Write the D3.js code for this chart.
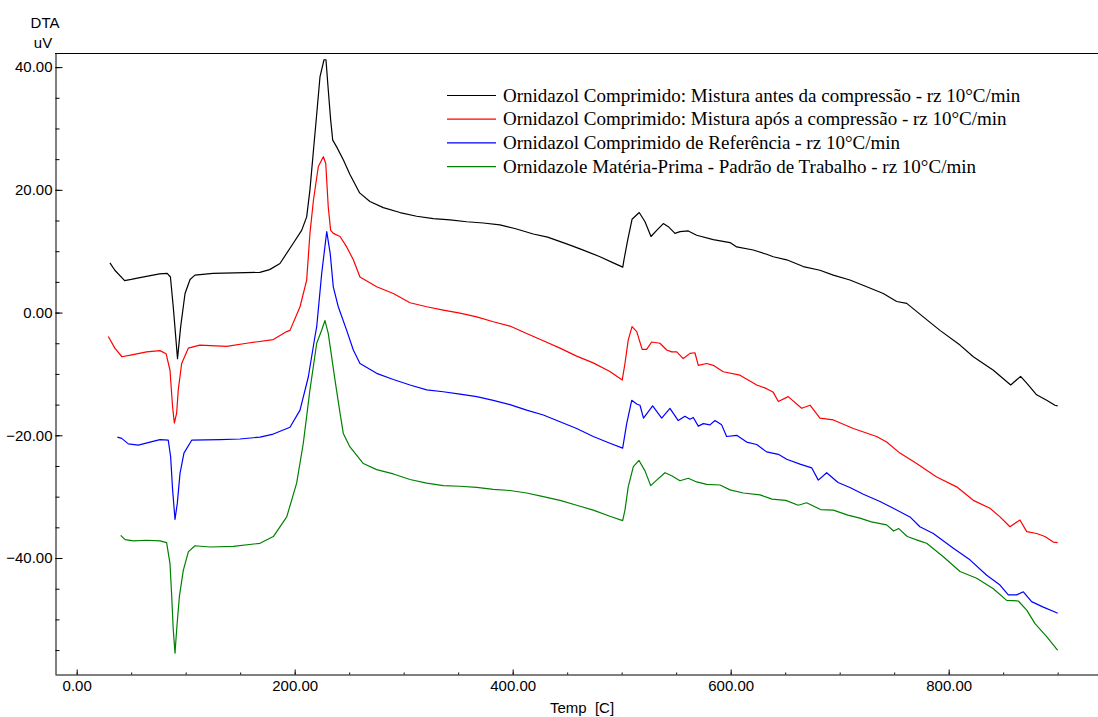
<!DOCTYPE html>
<html>
<head>
<meta charset="utf-8">
<script src="https://cdn.jsdelivr.net/npm/d3@7"></script>
<style>
    body { margin: 0; background: #fff; }
    #chart { width: 1098px; height: 717px; }
    .axis text { font-family: "Liberation Sans", Arial, sans-serif; font-size: 15px; fill: #000; }
    .axis path, .axis line { stroke: #000; }
</style>
</head>
<body>
<div id="chart"></div>
<script>
// DTA curves, [temperature C, signal uV]
const antes = [[30.5,8.1],[35,6.9],[44,5.2],[50,5.4],[58,5.7],[76,6.3],[83,6.4],[86,5.8],[88.6,0.9],[92.5,-7.5],[95.4,-2.3],[99.4,3.1],[104,5.4],[108.5,6.1],[125,6.4],[168,6.55],[177,7.0],[186.5,8.0],[198.7,11.3],[206.4,13.4],[211,15.6],[214,20],[217,26],[220,31.9],[223.2,38.4],[226.9,41.2],[228.7,41.2],[230.8,36.3],[233,31.4],[234.9,28.1],[238.5,27],[244.6,24.9],[250.7,22.5],[259.6,19.5],[269,18.1],[281.3,17.1],[296.6,16.3],[311.9,15.7],[327.2,15.3],[342.5,15.1],[357.8,14.8],[373,14.6],[388.3,14.3],[402,13.7],[418.9,12.8],[432,12.3],[449.5,11.2],[463,10.3],[480.1,9.1],[492.3,8.1],[501,7.4],[502.1,8.6],[505.5,11.8],[509.5,15.2],[516.1,16.3],[521.4,14.8],[526.9,12.4],[532.1,13.4],[538.2,14.5],[542.8,14.0],[548.9,12.9],[553.5,13.2],[561.1,13.3],[568.8,12.6],[584,11.9],[599.4,11.4],[605.5,10.7],[620.7,10.2],[633,9.5],[639.1,9.1],[651.4,8.6],[666.6,7.5],[681.9,6.9],[694.1,6.1],[709.4,5.3],[724.8,4.2],[740,3.1],[752.3,1.8],[761.5,1.5],[776.7,-0.7],[792,-2.9],[810.4,-5.3],[822.6,-7.2],[841,-9.4],[856.9,-11.8],[866,-10.4],[871.6,-11.5],[880.7,-13.4],[889.9,-14.3],[897.5,-15.1],[900,-15.2]];

const apos = [[29,-3.9],[35,-5.8],[41.5,-7.2],[50.6,-6.9],[64.2,-6.4],[76.4,-6.2],[82,-6.7],[85.6,-9.4],[88,-15.4],[89.6,-18],[91.7,-16.4],[93.2,-12.6],[96.3,-8.3],[102.4,-5.8],[113,-5.3],[137.6,-5.5],[156,-5.0],[180.4,-4.4],[192.7,-3.1],[195.7,-2.9],[204.9,0.95],[211,5.3],[214,12.9],[217.2,18.3],[221.7,23.8],[226.3,25.4],[228.5,24.3],[230.8,17.2],[233,13.4],[235.5,12.9],[241.6,12.4],[247.7,10.7],[253.8,8.6],[259.9,5.8],[275.2,4.2],[290.5,3.1],[305.8,1.6],[321.1,0.95],[336.3,0.4],[351.7,-0.1],[367,-0.7],[382.2,-1.5],[397.5,-2.2],[412.8,-3.4],[428.1,-4.6],[443.4,-5.8],[458.7,-7.1],[473.9,-8.2],[489.2,-9.6],[500.5,-11],[503,-8.3],[506,-4.5],[509.5,-2.3],[513.8,-3.1],[518.8,-6.0],[522.9,-6.0],[527.5,-4.8],[535.1,-5.0],[541.3,-6.1],[545.9,-6.4],[550.5,-6.4],[556.5,-7.5],[562.7,-6.65],[567.2,-6.55],[570.3,-8.6],[578,-8.3],[584,-8.6],[593.2,-9.65],[608.5,-10.2],[623.9,-11.8],[633,-12.4],[639.1,-13.0],[643.7,-14.5],[652.8,-13.7],[665.1,-15.6],[672.8,-15.1],[681.9,-17.2],[694.2,-17.5],[712.5,-18.9],[733.9,-20.2],[743.1,-21.1],[755.3,-22.9],[770.6,-24.6],[789,-26.8],[807.3,-28.4],[822.6,-30.6],[837.9,-31.9],[847.1,-33.3],[856.2,-34.9],[865.4,-33.8],[871.6,-35.7],[880.7,-36],[888.3,-36.5],[896,-37.4],[900,-37.5]];

const referencia = [[37.3,-20.3],[41.3,-20.5],[47.4,-21.4],[56.6,-21.6],[67.3,-21.1],[76.4,-20.7],[84,-20.8],[86.2,-23.5],[88,-28.9],[90.2,-33.7],[92.3,-31.1],[94.8,-26.2],[98.4,-22.9],[105.5,-20.8],[131.5,-20.7],[149.8,-20.6],[168.2,-20.3],[180.4,-19.8],[195.7,-18.7],[204.9,-15.9],[212.5,-10.5],[218.6,-3.9],[220.2,-2.3],[224.8,6.4],[229.4,13.2],[232.6,9.6],[235.4,4.2],[240,0.95],[247.7,-2.9],[253.8,-6.1],[259.9,-8.3],[275.2,-9.9],[290.5,-10.9],[305.8,-11.8],[321.1,-12.6],[336.3,-12.9],[351.7,-13.3],[367,-13.7],[382.2,-14.3],[397.5,-15.0],[412.8,-15.9],[428.1,-16.7],[443.4,-17.8],[458.7,-18.9],[473.9,-20.2],[489.2,-21.3],[500.9,-22.1],[504.6,-18.1],[509.2,-14.3],[513.8,-14.9],[516.8,-15.1],[520,-17.2],[528.4,-15.2],[536.7,-17.2],[544.3,-15.6],[551.9,-17.6],[558,-16.9],[562.6,-17.4],[565.7,-17.1],[570.3,-18.5],[574.9,-18.1],[581,-18.3],[585.6,-17.6],[591.7,-18.3],[596.3,-20.2],[605.5,-20],[614.7,-21.1],[623.9,-21.5],[633,-22.7],[643.7,-23.1],[651.4,-23.9],[663.6,-24.7],[674.3,-25.3],[680.4,-27.3],[688.1,-26.1],[698.5,-27.7],[709.4,-28.5],[721.7,-29.6],[737,-30.8],[749.2,-31.9],[764.5,-33.3],[773.6,-34.9],[785.9,-36],[804.3,-38.4],[819.5,-40.3],[834.9,-42.8],[847.1,-44.4],[854.7,-46],[862.4,-46],[868.5,-45.5],[876.1,-47.1],[886.8,-48],[897.5,-48.8],[900,-49]];

const materiaPrima = [[40.4,-36.3],[44.4,-37],[52,-37.2],[64.2,-37.1],[76.4,-37.2],[82.5,-37.5],[85.6,-40.9],[87.2,-46.3],[88.6,-51.7],[90.2,-55.5],[91.7,-51.7],[94.2,-46.3],[97.8,-42],[102.4,-39],[108.5,-38],[122.3,-38.2],[143.7,-38.1],[168.2,-37.6],[180.4,-36.5],[192.7,-33.3],[201.8,-27.8],[207.9,-21.3],[214,-12.6],[220.2,-5],[224.8,-2.85],[227.8,-1.3],[230.8,-3.4],[237,-11],[241.6,-16.4],[244.6,-19.7],[250.7,-21.9],[263,-24.6],[275.2,-25.6],[290.5,-26.3],[305.8,-27.2],[321.1,-27.8],[336.3,-28.2],[351.7,-28.3],[367,-28.5],[382.2,-28.8],[397.5,-29.0],[412.8,-29.4],[428.1,-30],[443.4,-30.6],[458.7,-31.4],[473.9,-32.2],[489.2,-33.2],[500.9,-33.9],[503,-32.2],[506,-28.4],[510.7,-25.1],[515.9,-24.1],[521.4,-25.8],[526.6,-28.2],[532.1,-27.3],[539.7,-26.1],[545.9,-26.6],[553.5,-27.4],[561.1,-27.0],[568.8,-27.6],[578,-28],[590.2,-28.1],[599.4,-28.9],[611.6,-29.4],[626.9,-29.7],[638,-30.4],[650.5,-30.6],[662,-31.4],[669.7,-31],[682.5,-32.1],[694.2,-32.2],[707.5,-33],[718.6,-33.5],[729,-34.1],[743.1,-34.6],[749.5,-35.6],[754.2,-35.2],[762,-36.5],[773.1,-37.2],[779.8,-37.6],[795.1,-39.8],[810.4,-42.2],[825.7,-43.3],[841,-45],[853.2,-46.9],[863.9,-47],[871.6,-48.5],[879.2,-50.7],[889.9,-52.8],[898.4,-54.7],[900,-55]];

const seriesNames = [
    "Ornidazol Comprimido: Mistura antes da compressão - rz 10°C/min",
    "Ornidazol Comprimido: Mistura após a compressão - rz 10°C/min",
    "Ornidazol Comprimido de Referência - rz 10°C/min",
    "Ornidazole Matéria-Prima - Padrão de Trabalho - rz 10°C/min"
];
const seriesColors = ["#000000", "#ff0000", "#0000ff", "#008000"];

const xMajorTicks = [0, 200, 400, 600, 800];
const yMajorTicks = [-40, -20, 0, 20, 40];

const series = [antes, apos, referencia, materiaPrima].map((pts, i) => ({
    name: seriesNames[i], color: seriesColors[i], values: pts
}));

const width = 1098, height = 717;
const plot = { left: 55, right: 1098, top: 53, bottom: 674 };

const svg = d3.select("#chart").append("svg")
    .attr("width", width)
    .attr("height", height);

const x = d3.scaleLinear()
    .domain([-19.9, 937])
    .range([plot.left, plot.right]);

const y = d3.scaleLinear()
    .domain([-58.9, 42.3])
    .range([plot.bottom, plot.top]);

// top frame line
svg.append("line")
    .attr("x1", plot.left).attr("x2", plot.right)
    .attr("y1", plot.top + 0.5).attr("y2", plot.top + 0.5)
    .attr("stroke", "#000");

// x axis: minor ticks every 50, labelled majors every 200
svg.append("g")
    .attr("class", "axis")
    .attr("transform", "translate(0," + (plot.bottom + 0.5) + ")")
    .call(d3.axisBottom(x).tickValues(d3.range(0, 901, 50)).tickSize(-2).tickSizeOuter(0).tickFormat(""));

svg.append("g")
    .attr("class", "axis")
    .attr("transform", "translate(0," + (plot.bottom + 0.5) + ")")
    .call(d3.axisBottom(x).tickValues(xMajorTicks).tickSize(-5).tickSizeOuter(0)
        .tickPadding(6).tickFormat(d3.format(".2f")))
    .select(".domain").remove();

// y axis: minor ticks every 5
svg.append("g")
    .attr("class", "axis")
    .attr("transform", "translate(" + (plot.left + 0.5) + ",0)")
    .call(d3.axisLeft(y).tickValues(d3.range(-55, 41, 5)).tickSize(-4).tickSizeOuter(0).tickFormat(""));

svg.append("g")
    .attr("class", "axis")
    .attr("transform", "translate(" + (plot.left + 0.5) + ",0)")
    .call(d3.axisLeft(y).tickValues(yMajorTicks).tickSize(-7).tickSizeOuter(0)
        .tickPadding(3).tickFormat(d3.format(".2f")))
    .select(".domain").remove();

// axis titles
const axisFont = "'Liberation Sans', Arial, sans-serif";
svg.append("text")
    .attr("x", 45).attr("y", 28)
    .attr("text-anchor", "middle")
    .style("font-family", axisFont).style("font-size", "15px")
    .text("DTA");
svg.append("text")
    .attr("x", 43).attr("y", 48)
    .attr("text-anchor", "middle")
    .style("font-family", axisFont).style("font-size", "15px")
    .text("uV");
svg.append("text")
    .attr("x", 582).attr("y", 713)
    .attr("text-anchor", "middle")
    .style("font-family", axisFont).style("font-size", "15px")
    .style("white-space", "pre")
    .text("Temp  [C]");

// curves
const line = d3.line()
    .x(d => x(d[0]))
    .y(d => y(d[1]));

svg.append("g").selectAll("path")
    .data(series)
    .enter()
    .append("path")
    .attr("d", d => line(d.values))
    .attr("fill", "none")
    .attr("stroke", d => d.color)
    .attr("stroke-width", 1.2)
    .attr("stroke-linejoin", "round");

// legend
const legend = svg.append("g")
    .attr("transform", "translate(447,95)");

const rows = legend.selectAll(".row")
    .data(series)
    .enter()
    .append("g")
    .attr("class", "row")
    .attr("transform", (d, i) => "translate(0," + (i * 23.7) + ")");

rows.append("line")
    .attr("x1", 0).attr("x2", 49)
    .attr("y1", 0.5).attr("y2", 0.5)
    .attr("stroke", d => d.color)
    .attr("stroke-width", 1.2);

rows.append("text")
    .attr("x", 56)
    .attr("dy", "0.35em")
    .style("font-family", "'Liberation Serif', 'Times New Roman', serif")
    .style("font-size", "19px")
    .text(d => d.name);
</script>
</body>
</html>
